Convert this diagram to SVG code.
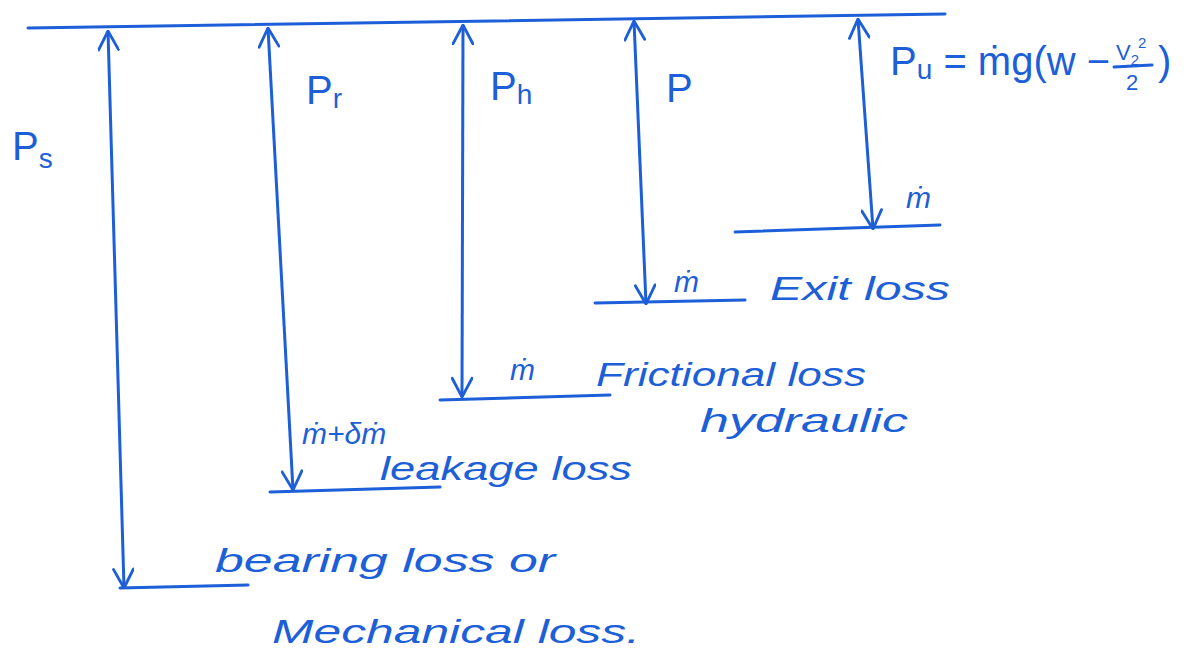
<svg xmlns="http://www.w3.org/2000/svg" width="1202" height="664" viewBox="0 0 1202 664">
<style>
.ln{stroke:#1d5fd8;stroke-width:3;fill:none;stroke-linecap:round}
.ar{stroke:#1d5fd8;stroke-width:3;fill:none;marker-start:url(#ah);marker-end:url(#ah)}
text{font-family:"Liberation Sans",Arial,sans-serif;fill:#1d5fd8;font-style:italic}
.lb{font-size:34px}
.pl{font-size:40px;font-style:normal}
.fr{font-size:22px;font-style:normal}
.md{font-size:30px}
</style>
<defs>
<marker id="ah" viewBox="0 0 20 20" refX="19" refY="10" markerWidth="22" markerHeight="22" markerUnits="userSpaceOnUse" orient="auto-start-reverse">
<path d="M2,1 L19,10 L2,19" fill="none" stroke="#1d5fd8" stroke-width="2.6" stroke-linecap="round"/>
</marker>
</defs>
<rect width="1202" height="664" fill="#ffffff"/>
<g id="connectors">
<line class="ln" x1="28" y1="28" x2="945" y2="14"/>
<line class="ar" x1="108" y1="31" x2="124" y2="588"/>
<line class="ar" x1="268" y1="28" x2="293" y2="490"/>
<line class="ar" x1="463" y1="25" x2="462" y2="397"/>
<line class="ar" x1="634" y1="21" x2="646" y2="304"/>
<line class="ar" x1="858" y1="19" x2="873" y2="229"/>
</g>
<g id="shaft">
<text class="pl" x="12" y="160">P<tspan font-size="28" dy="8">s</tspan></text>
<line class="ln" x1="120" y1="588" x2="248" y2="585"/>
<text class="lb" x="215" y="572" textLength="340" lengthAdjust="spacingAndGlyphs">bearing loss or</text>
<text class="lb" x="272" y="643" textLength="368" lengthAdjust="spacingAndGlyphs">Mechanical loss.</text>
</g>
<g id="rotor">
<text class="pl" x="306" y="104">P<tspan font-size="28" dy="4">r</tspan></text>
<line class="ln" x1="270" y1="492" x2="440" y2="487"/>
<text class="md" x="302" y="444">ṁ+δṁ</text>
<text class="lb" x="380" y="480" textLength="252" lengthAdjust="spacingAndGlyphs">leakage loss</text>
</g>
<g id="hydraulic">
<text class="pl" x="490" y="100">P<tspan font-size="28" dy="4">h</tspan></text>
<line class="ln" x1="440" y1="400" x2="610" y2="395"/>
<text class="md" x="510" y="380">ṁ</text>
<text class="lb" x="596" y="386" textLength="270" lengthAdjust="spacingAndGlyphs">Frictional loss</text>
<text class="lb" x="700" y="432" textLength="208" lengthAdjust="spacingAndGlyphs">hydraulic</text>
</g>
<g id="power">
<text class="pl" x="666" y="102">P</text>
<line class="ln" x1="595" y1="303" x2="745" y2="300"/>
<text class="md" x="674" y="292">ṁ</text>
<text class="lb" x="770" y="300" textLength="180" lengthAdjust="spacingAndGlyphs">Exit loss</text>
</g>
<g id="useful">
<text class="pl" x="890" y="75">P<tspan font-size="28" dy="4">u</tspan><tspan dy="-4"> = ṁg(w −</tspan></text>
<text class="fr" x="1116" y="60">V<tspan font-size="15" dy="5">2</tspan><tspan font-size="15" dx="-1" dy="-17">2</tspan></text>
<line class="ln" x1="1114" y1="67" x2="1152" y2="65" stroke-width="2"/>
<text class="fr" x="1126" y="90">2</text>
<text class="pl" x="1158" y="75">)</text>
<line class="ln" x1="735" y1="232" x2="940" y2="225"/>
<text class="md" x="906" y="208">ṁ</text>
</g>
</svg>
